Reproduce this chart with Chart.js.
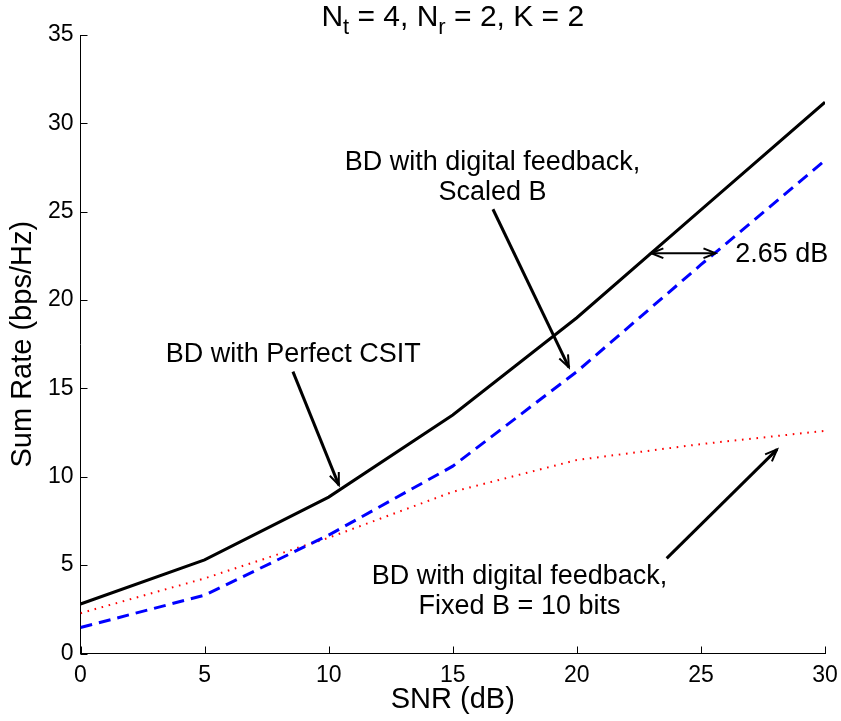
<!DOCTYPE html>
<html>
<head>
<meta charset="utf-8">
<script src="https://cdn.jsdelivr.net/npm/chart.js@4.4.1/dist/chart.umd.min.js"></script>
<style>
  html, body { margin: 0; padding: 0; background: #ffffff; }
  canvas { display: block; }
</style>
</head>
<body>
<canvas id="chart" width="841" height="721"></canvas>
<script>
// SNR grid (dB) and sum rates (bps/Hz) for the three schemes
const snrDb = [0, 5, 10, 15, 20, 25, 30];
const perfectCsit = [2.8, 5.3, 8.85, 13.5, 19.0, 25.1, 31.2];
const scaledB = [1.47, 3.3, 6.7, 10.6, 15.95, 22.0, 27.9];
const fixedB = [2.28, 4.25, 6.55, 9.15, 10.95, 11.85, 12.6];

// Tick values for both axes
const xTickValues = [0, 5, 10, 15, 20, 25, 30];
const yTickValues = [0, 5, 10, 15, 20, 25, 30, 35];

// Callout labels, anchored in data coordinates (x = SNR, y = rate)
const noteLabels = [
  { lines: ['BD with Perfect CSIT'], x: 8.57, y: 16.89, align: 'center' },
  { lines: ['BD with digital feedback,', 'Scaled B'], x: 16.6, y: 27.76, align: 'center' },
  { lines: ['2.65 dB'], x: 26.38, y: 22.55, align: 'left' },
  { lines: ['BD with digital feedback,', 'Fixed B = 10 bits'], x: 17.69, y: 4.38, align: 'center' }
];

// Callout arrows: from (x1, y1) to (x2, y2); "both" puts a head on each end
const noteArrows = [
  { x1: 8.56, y1: 15.95, x2: 10.41, y2: 9.53, both: false },
  { x1: 16.62, y1: 25.14, x2: 19.68, y2: 16.19, both: false },
  { x1: 23.0, y1: 22.65, x2: 25.59, y2: 22.65, both: true },
  { x1: 23.62, y1: 5.38, x2: 28.07, y2: 11.55, both: false }
];

const FONT = '"Liberation Sans", Arial, Helvetica, sans-serif';
Chart.defaults.font.family = FONT;
Chart.defaults.color = '#000000';

function drawHead(ctx, x1, y1, x2, y2, len, ang) {
  const a = Math.atan2(y2 - y1, x2 - x1);
  ctx.beginPath();
  ctx.moveTo(x2 - len * Math.cos(a - ang), y2 - len * Math.sin(a - ang));
  ctx.lineTo(x2, y2);
  ctx.lineTo(x2 - len * Math.cos(a + ang), y2 - len * Math.sin(a + ang));
  ctx.stroke();
}

// Inward tick marks on the left and bottom axes
const innerTicks = {
  id: 'innerTicks',
  afterDatasetsDraw(chart) {
    const { ctx, chartArea, scales } = chart;
    const len = 7;
    ctx.save();
    ctx.strokeStyle = '#000000';
    ctx.lineWidth = 1;
    xTickValues.forEach(v => {
      const px = Math.round(scales.x.getPixelForValue(v)) + 0.5;
      ctx.beginPath();
      ctx.moveTo(px, chartArea.bottom);
      ctx.lineTo(px, chartArea.bottom - len);
      ctx.stroke();
    });
    yTickValues.forEach(v => {
      const py = Math.round(scales.y.getPixelForValue(v)) + 0.5;
      ctx.beginPath();
      ctx.moveTo(chartArea.left, py);
      ctx.lineTo(chartArea.left + len, py);
      ctx.stroke();
    });
    ctx.restore();
  }
};

// Callout text and arrows
const callouts = {
  id: 'callouts',
  afterDatasetsDraw(chart) {
    const { ctx, scales } = chart;
    const X = v => scales.x.getPixelForValue(v);
    const Y = v => scales.y.getPixelForValue(v);
    ctx.save();
    ctx.fillStyle = '#000000';
    ctx.font = '27px ' + FONT;
    ctx.textBaseline = 'middle';
    noteLabels.forEach(n => {
      ctx.textAlign = n.align;
      n.lines.forEach((t, i) => ctx.fillText(t, X(n.x), Y(n.y) + i * 30));
    });
    ctx.strokeStyle = '#000000';
    ctx.lineCap = 'butt';
    noteArrows.forEach(a => {
      const x1 = X(a.x1), y1 = Y(a.y1), x2 = X(a.x2), y2 = Y(a.y2);
      ctx.lineWidth = a.both ? 2 : 3;
      ctx.beginPath();
      ctx.moveTo(x1, y1);
      ctx.lineTo(x2, y2);
      ctx.stroke();
      ctx.lineWidth = 2;
      drawHead(ctx, x1, y1, x2, y2, 13, 0.38);
      if (a.both) drawHead(ctx, x2, y2, x1, y1, 13, 0.38);
    });
    ctx.restore();
  }
};

// Title with subscripts: N_t = 4, N_r = 2, K = 2
const subTitle = {
  id: 'subTitle',
  afterDraw(chart) {
    const { ctx, chartArea } = chart;
    const parts = [
      ['N', false], ['t', true], [' = 4, N', false], ['r', true], [' = 2, K = 2', false]
    ];
    const big = '30px ' + FONT, small = '22px ' + FONT;
    ctx.save();
    ctx.fillStyle = '#000000';
    ctx.textBaseline = 'alphabetic';
    ctx.textAlign = 'left';
    let total = 0;
    parts.forEach(([t, s]) => { ctx.font = s ? small : big; total += ctx.measureText(t).width; });
    let x = (chartArea.left + chartArea.right) / 2 - total / 2;
    const base = 26;
    parts.forEach(([t, s]) => {
      ctx.font = s ? small : big;
      ctx.fillText(t, x, s ? base + 8 : base);
      x += ctx.measureText(t).width;
    });
    ctx.restore();
  }
};

new Chart(document.getElementById('chart'), {
  type: 'line',
  data: {
    datasets: [
      {
        label: 'BD with Perfect CSIT',
        data: snrDb.map((x, i) => ({ x, y: perfectCsit[i] })),
        borderColor: '#000000',
        borderWidth: 3,
        pointRadius: 0,
        tension: 0
      },
      {
        label: 'BD with digital feedback, Scaled B',
        data: snrDb.map((x, i) => ({ x, y: scaledB[i] })),
        borderColor: '#0000ff',
        borderWidth: 3,
        borderDash: [12, 7],
        pointRadius: 0,
        tension: 0
      },
      {
        label: 'BD with digital feedback, Fixed B = 10 bits',
        data: snrDb.map((x, i) => ({ x, y: fixedB[i] })),
        borderColor: '#ff0000',
        borderWidth: 2,
        borderDash: [1.6, 5.7],
        pointRadius: 0,
        tension: 0
      }
    ]
  },
  options: {
    responsive: false,
    animation: false,
    devicePixelRatio: 1,
    layout: { padding: { top: 35, right: 16, left: 0, bottom: 0 } },
    plugins: { legend: { display: false }, tooltip: { enabled: false }, title: { display: false } },
    scales: {
      x: {
        type: 'linear',
        min: 0, max: 30,
        afterFit: s => { s.height = 67.5; s.paddingLeft = 0; s.paddingRight = 0; },
        afterBuildTicks: s => { s.ticks = xTickValues.map(v => ({ value: v })); },
        grid: { display: false, drawTicks: false },
        border: { display: true, color: '#000000', width: 1 },
        ticks: { font: { size: 23 }, padding: 8, maxRotation: 0, color: '#000000' },
        title: { display: true, text: 'SNR (dB)', font: { size: 29 }, padding: { top: 0, bottom: 3.6 }, color: '#000000' }
      },
      y: {
        type: 'linear',
        min: 0, max: 35,
        afterFit: s => { s.width = 80.5; s.paddingTop = 0; s.paddingBottom = 0; },
        afterBuildTicks: s => { s.ticks = yTickValues.map(v => ({ value: v })); },
        grid: { display: false, drawTicks: false },
        border: { display: true, color: '#000000', width: 1 },
        ticks: { font: { size: 23 }, padding: 7, color: '#000000' },
        title: { display: true, text: 'Sum Rate (bps/Hz)', font: { size: 29 }, padding: { top: 5.6, bottom: 0 }, color: '#000000' }
      }
    }
  },
  plugins: [innerTicks, callouts, subTitle]
});
</script>
</body>
</html>
